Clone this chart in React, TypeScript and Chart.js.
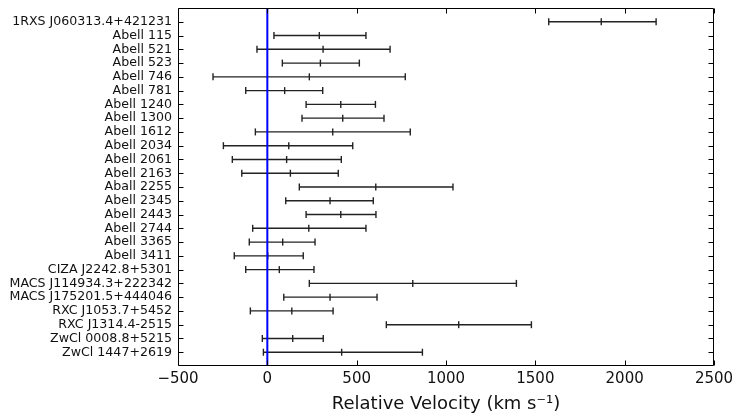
import React, { useEffect, useRef } from "react";
import { Chart, registerables } from "chart.js";

Chart.register(...registerables);

const clusters: string[] = [
  "1RXS J060313.4+421231",
  "Abell 115",
  "Abell 521",
  "Abell 523",
  "Abell 746",
  "Abell 781",
  "Abell 1240",
  "Abell 1300",
  "Abell 1612",
  "Abell 2034",
  "Abell 2061",
  "Abell 2163",
  "Aball 2255",
  "Abell 2345",
  "Abell 2443",
  "Abell 2744",
  "Abell 3365",
  "Abell 3411",
  "CIZA J2242.8+5301",
  "MACS J114934.3+222342",
  "MACS J175201.5+444046",
  "RXC J1053.7+5452",
  "RXC J1314.4-2515",
  "ZwCl 0008.8+5215",
  "ZwCl 1447+2619",
];

const lowerVelocity: number[] = [
  1575, 37, -58, 84, -304, -121, 217, 194, -67, -246, -196, -143, 179, 103,
  217, -82, -101, -185, -121, 235, 92, -95, 666, -28, -22,
];

const centralVelocity: number[] = [
  1869, 291, 312, 297, 235, 97, 411, 422, 366, 120, 108, 129, 607, 351, 411,
  232, 86, 2, 67, 814, 351, 137, 1071, 142, 416,
];

const upperVelocity: number[] = [
  2176, 552, 687, 515, 772, 310, 605, 653, 800, 478, 414, 397, 1039, 593, 608,
  552, 267, 201, 261, 1394, 614, 368, 1478, 313, 868,
];

const xTicks: number[] = [-500, 0, 500, 1000, 1500, 2000, 2500];
const referenceVelocity = 0;

const frameTicks = {
  id: "frameTicks",
  afterDraw(chart: any) {
    const { ctx, chartArea: a, scales } = chart;
    const x = scales.x;
    const y = scales.y;
    const L = Math.round(a.left) + 0.5;
    const R = Math.round(a.right) - 0.5;
    const T = Math.round(a.top) + 0.5;
    const B = Math.round(a.bottom) - 0.5;
    ctx.save();
    ctx.strokeStyle = "#000";
    ctx.lineWidth = 1;
    ctx.beginPath();
    ctx.rect(L, T, R - L, B - T);
    ctx.stroke();
    const len = 5;
    ctx.beginPath();
    for (const t of x.ticks) {
      const px = Math.round(x.getPixelForValue(t.value)) + 0.5;
      ctx.moveTo(px, B);
      ctx.lineTo(px, B - len);
      ctx.moveTo(px, T);
      ctx.lineTo(px, T + len);
    }
    clusters.forEach((_, i) => {
      const py = Math.round(y.getPixelForValue(i)) + 0.5;
      ctx.moveTo(L, py);
      ctx.lineTo(L + len, py);
      ctx.moveTo(R, py);
      ctx.lineTo(R - len, py);
    });
    ctx.stroke();
    ctx.restore();
  },
};

export default function App() {
  const ref = useRef<HTMLCanvasElement>(null);

  useEffect(() => {
    if (!ref.current) return;
    const barData: any[] = [];
    clusters.forEach((_, i) => {
      barData.push({ x: lowerVelocity[i], y: i });
      barData.push({ x: upperVelocity[i], y: i });
      barData.push({ x: null, y: null });
    });
    const centerData = clusters.map((_, i) => ({ x: centralVelocity[i], y: i }));

    const chart = new Chart(ref.current, {
      type: "scatter",
      data: {
        datasets: [
          {
            label: "zero",
            data: [
              { x: referenceVelocity, y: -1 },
              { x: referenceVelocity, y: clusters.length },
            ],
            showLine: true,
            borderColor: "#0000ff",
            borderWidth: 2,
            pointRadius: 0,
          },
          {
            label: "range",
            data: barData,
            showLine: true,
            spanGaps: false,
            borderColor: "#222",
            borderWidth: 1.4,
            pointStyle: "line",
            rotation: 90,
            pointRadius: 3.5,
            pointBorderColor: "#222",
            pointBorderWidth: 1.4,
          },
          {
            label: "center",
            data: centerData,
            showLine: false,
            pointStyle: "line",
            rotation: 90,
            pointRadius: 3.5,
            pointBorderColor: "#222",
            pointBorderWidth: 1.4,
            borderColor: "#222",
          },
        ],
      },
      options: {
        animation: false,
        responsive: false,
        devicePixelRatio: 1,
        layout: { padding: { top: 8, right: 23, left: 0, bottom: 0 } },
        plugins: {
          legend: { display: false },
          tooltip: { enabled: false },
        },
        scales: {
          x: {
            type: "linear",
            min: -500,
            max: 2500,
            afterBuildTicks: (s: any) => {
              s.ticks = xTicks.map((v) => ({ value: v }));
            },
            afterFit: (s: any) => {
              s.height = 52;
              s.paddingLeft = 0;
              s.paddingRight = 0;
            },
            grid: { display: false, drawTicks: false, tickLength: 0 },
            border: { display: false },
            ticks: {
              padding: 4,
              color: "#111",
              font: { family: "DejaVu Sans", size: 15 },
              callback: (v: any) => String(v).replace("-", "\u2212"),
            },
            title: {
              display: true,
              text: "Relative Velocity (km s\u207B\u00B9)",
              color: "#111",
              font: { family: "DejaVu Sans", size: 18 },
              padding: { top: 0, bottom: 3 },
            },
          },
          y: {
            type: "linear",
            min: -1,
            max: clusters.length,
            reverse: true,
            afterBuildTicks: (s: any) => {
              s.ticks = clusters.map((_, i) => ({ value: i }));
            },
            afterFit: (s: any) => {
              s.width = 178;
              s.paddingTop = 0;
              s.paddingBottom = 0;
            },
            grid: { display: false, drawTicks: false, tickLength: 0 },
            border: { display: false },
            ticks: {
              autoSkip: false,
              padding: 6,
              color: "#111",
              font: { family: "DejaVu Sans", size: 12.6 },
              callback: (v: any) => clusters[v] ?? "",
            },
          },
        },
      },
      plugins: [frameTicks],
    });
    return () => chart.destroy();
  }, []);

  return (
    <div
      style={{
        position: "fixed",
        left: 0,
        top: 0,
        width: 737,
        height: 418,
        background: "#fff",
      }}
    >
      <canvas ref={ref} width={737} height={418} />
    </div>
  );
}
